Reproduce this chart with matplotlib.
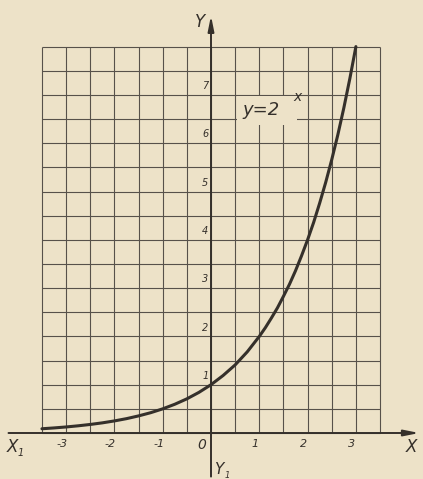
import matplotlib.pyplot as plt
import numpy as np

xs = [-3.5, -3.25, -3.0, -2.75, -2.5, -2.25, -2.0, -1.75, -1.5, -1.25, -1.0,
      -0.75, -0.5, -0.25, 0.0, 0.25, 0.5, 0.75, 1.0, 1.125, 1.25, 1.375, 1.5,
      1.625, 1.75, 1.875, 2.0, 2.125, 2.25, 2.375, 2.5, 2.625, 2.75, 2.875,
      3.0]
ys = [0.088, 0.105, 0.125, 0.149, 0.177, 0.210, 0.25, 0.297, 0.354, 0.420,
      0.5, 0.595, 0.707, 0.841, 1.0, 1.19, 1.41, 1.68, 2.0, 2.18, 2.38, 2.59,
      2.83, 3.08, 3.36, 3.67, 4.0, 4.36, 4.76, 5.19, 5.66, 6.17, 6.73, 7.34,
      8.0]
x_ticks = [-3, -2, -1, 1, 2, 3]
x_tick_labels = ['-3', '-2', '-1', '1', '2', '3']
y_ticks = [1, 2, 3, 4, 5, 6, 7]
y_tick_labels = ['1', '2', '3', '4', '5', '6', '7']

paper = '#ede2c8'
ink = '#35302b'
grid_ink = '#57514a'

W, H = 423, 479
ox, oy, s = 211, 433, 48.3   # origin pixel and pixels per unit

fig = plt.figure(figsize=(W / 100, H / 100), dpi=100, facecolor=paper)
ax = fig.add_axes([0, 0, 1, 1])
ax.set_facecolor(paper)
ax.set_xlim(-ox / s, (W - ox) / s)
ax.set_ylim((oy - H) / s, oy / s)
ax.axis('off')

# squared paper
gx = np.arange(-3.5, 3.51, 0.5)
gy = np.arange(0, 8.01, 0.5)
ax.vlines(gx, 0, 8, color=grid_ink, lw=0.8, zorder=1)
ax.hlines(gy, -3.5, 3.5, color=grid_ink, lw=0.8, zorder=1)

# axes with arrows
ax.annotate('', xy=(4.37, 0), xytext=(-4.25, 0),
            arrowprops=dict(arrowstyle='-|>,head_length=0.9,head_width=0.18',
                            color=ink, lw=1.4), zorder=3)
ax.annotate('', xy=(0, 8.7), xytext=(0, -0.96),
            arrowprops=dict(arrowstyle='-|>,head_length=0.9,head_width=0.18',
                            color=ink, lw=1.4), zorder=3)

ax.plot(xs, ys, color=ink, lw=2.2, solid_capstyle='round',
        solid_joinstyle='round', zorder=4)

fnt = dict(style='italic', color=ink, family='DejaVu Sans')
for x, lab in zip(x_ticks, x_tick_labels):
    ax.text(x - 0.08, -0.12, lab, ha='center', va='top', fontsize=8, **fnt)
ax.text(-0.2, -0.1, '0', ha='center', va='top', fontsize=10, **fnt)
for y, lab in zip(y_ticks, y_tick_labels):
    ax.text(-0.12, y + 0.08, lab, ha='center', va='bottom', fontsize=7, **fnt)

ax.text(-4.12, -0.1, 'X', ha='center', va='top', fontsize=12, **fnt)
ax.text(-3.95, -0.32, '1', ha='center', va='top', fontsize=7, **fnt)
ax.text(4.15, -0.1, 'X', ha='center', va='top', fontsize=12, **fnt)
ax.text(-0.22, 8.5, 'Y', ha='center', va='center', fontsize=12, **fnt)
ax.text(0.15, -0.75, 'Y', ha='center', va='center', fontsize=11, **fnt)
ax.text(0.33, -0.88, '1', ha='center', va='center', fontsize=6, **fnt)

ax.text(0.66, 6.68, 'y=2  ', ha='left', va='center', fontsize=13, zorder=5,
        bbox=dict(facecolor=paper, edgecolor='none', pad=4), **fnt)
ax.text(1.7, 6.95, 'x', ha='left', va='center', fontsize=10, zorder=6, **fnt)

fig.savefig('out.png', dpi=100, facecolor=paper)
